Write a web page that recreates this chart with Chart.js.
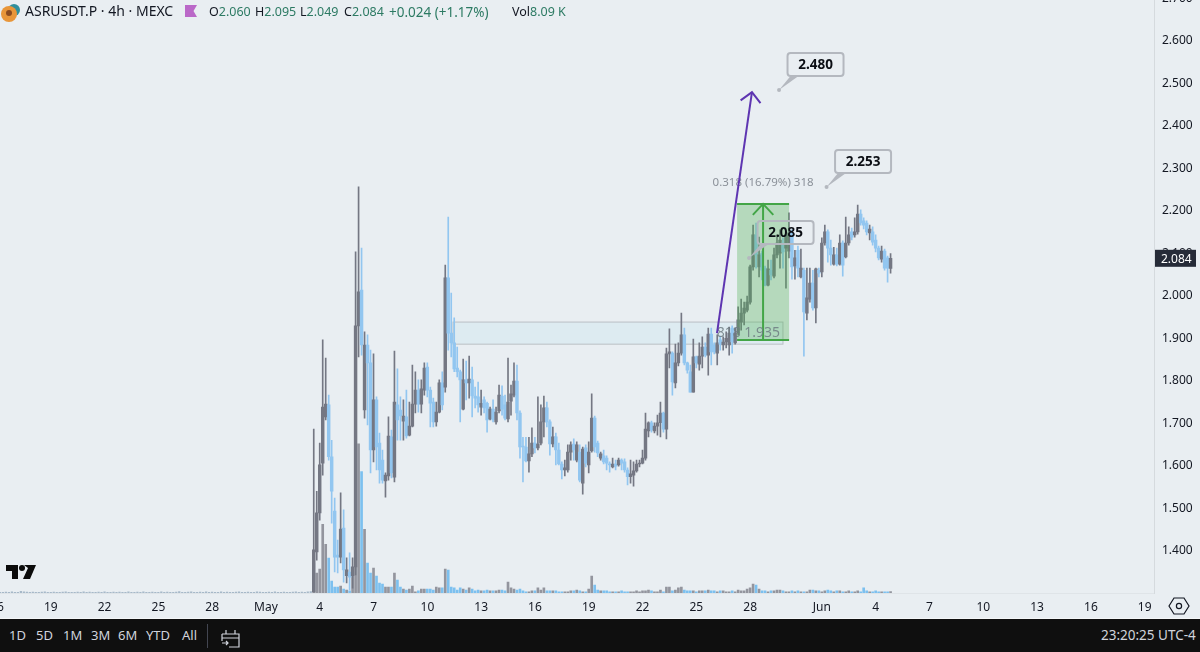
<!DOCTYPE html>
<html>
<head>
<meta charset="utf-8">
<title>ASRUSDT.P</title>
<script src="https://cdn.jsdelivr.net/npm/chart.js@4"></script>
<style>
    html, body { margin: 0; padding: 0; width: 1200px; height: 652px; overflow: hidden; background: #e9eef2; font-family: "Noto Sans", sans-serif; }
    #chart { position: absolute; left: -3px; top: -14px; }
    .t { position: absolute; white-space: nowrap; }
    #head { color: #131722; font-size: 14px; left: 25px; top: 1px; line-height: 20px; }
    .ohlc { color: #131722; font-size: 12.5px; top: 1.5px; line-height: 20px; }
    .ohlc b { font-weight: 400; color: #2c7a63; }
    #bottom { position: absolute; left: 0; top: 618px; width: 1200px; height: 34px; background: #0f0f0f; border-top: 1px solid #f4f6f8; box-sizing: border-box; color: #d1d4dc; font-size: 13px; }
    #bottom span { position: absolute; top: 7px; line-height: 18px; }
    svg { position: absolute; }
</style>
</head>
<body>
<canvas id="chart" width="1203" height="633"></canvas>

<svg style="left:0;top:3px" width="22" height="20"><circle cx="14" cy="7" r="6" fill="#2f8f9d"/><circle cx="9" cy="11" r="8" fill="#e8963a"/><circle cx="9" cy="10" r="3" fill="#8a4b20"/></svg>
<div class="t" id="head">ASRUSDT.P · 4h · MEXC</div>
<svg style="left:185px;top:5px" width="12" height="12"><path d="M0 0H12L8.5 6L12 12H0Z" fill="#ba68c8"/></svg>
<div class="t ohlc" style="left:209px">O<b>2.060</b></div>
<div class="t ohlc" style="left:255px">H<b>2.095</b></div>
<div class="t ohlc" style="left:300px">L<b>2.049</b></div>
<div class="t ohlc" style="left:344px">C<b>2.084</b></div>
<div class="t ohlc" style="left:389px;font-size:13.5px"><b>+0.024 (+1.17%)</b></div>
<div class="t ohlc" style="left:512px">Vol<b>8.09 K</b></div>

<svg style="left:6px;top:565px" width="30" height="14"><path d="M0 0H12V14H6V6H0Z M18 0H30L24 14H17L22 3Z" fill="#0b0b0b"/><circle cx="16" cy="3" r="3" fill="#0b0b0b"/></svg>
<svg style="left:1168px;top:597px" width="22" height="18" fill="none" stroke="#131722" stroke-width="1.2"><path d="M1 9L6 1H16L21 9L16 17H6Z"/><circle cx="11" cy="9" r="2.6"/></svg>

<div id="bottom">
    <span style="left:9px">1D</span><span style="left:36px">5D</span><span style="left:63px">1M</span><span style="left:91px">3M</span><span style="left:118px">6M</span><span style="left:146px">YTD</span><span style="left:182px">All</span>
    <svg style="left:207px;top:5px" width="2" height="24"><rect width="1" height="24" fill="#434651"/></svg>
    <svg style="left:221px;top:10px" width="20" height="19" fill="none" stroke="#d1d4dc" stroke-width="1.2"><path d="M1 5H18V18H8M1 5V12M5 1V5M14 1V5M1 9H18M1 14H7M5 12L7 14L5 16"/></svg>
    <span style="left:1101px;font-size:13.5px">23:20:25 UTC-4</span>
</div>

<script>
const priceTicks = [1.4, 1.5, 1.6, 1.7, 1.8, 1.9, 2.0, 2.1, 2.2, 2.3, 2.4, 2.5, 2.6, 2.7];
const dayTicks = [-15, -12, -9, -6, -3, 0, 3, 6, 9, 12, 15, 18, 21, 24, 27, 31, 34, 37, 40, 43, 46, 49];
const dayLabels = ['16', '19', '22', '25', '28', 'May', '4', '7', '10', '13', '16', '19', '22', '25', '28', 'Jun', '4', '7', '10', '13', '16', '19'];

const lastDay = 34.83; // days after May 1, last 4h candle
const lastPrice = 2.084;

const opens = [
    1.299,1.393,1.485,1.602,1.711,1.739,1.617,1.489,1.386,1.381,
    1.449,1.337,1.346,1.337,1.358,1.925,2.009,1.727,1.880,1.838,
    1.633,1.751,1.649,1.609,1.560,1.572,1.664,1.569,1.739,1.727,
    1.701,1.711,1.668,1.689,1.741,1.774,1.741,1.774,1.828,1.774,
    1.746,1.699,1.722,1.791,1.781,2.038,1.908,1.885,1.826,1.817,
    1.729,1.798,1.791,1.798,1.760,1.758,1.734,1.751,1.743,1.706,
    1.729,1.699,1.725,1.760,1.739,1.706,1.748,1.762,1.795,1.720,
    1.642,1.640,1.607,1.624,1.649,1.638,1.649,1.699,1.732,1.699,
    1.647,1.664,1.633,1.600,1.586,1.586,1.628,1.647,1.609,1.628,
    1.555,1.638,1.598,1.631,1.708,1.649,1.614,1.619,1.614,1.600,
    1.593,1.600,1.598,1.609,1.605,1.586,1.570,1.574,1.584,1.600,
    1.602,1.614,1.678,1.697,1.678,1.689,1.697,1.720,1.682,1.859,
    1.861,1.791,1.838,1.861,1.904,1.838,1.817,1.769,1.852,1.835,
    1.854,1.875,1.856,1.906,1.880,1.861,1.892,1.880,1.887,1.880,
    1.920,1.885,1.908,1.934,1.955,1.962,1.981,2.064,2.139,2.064,
    2.096,2.061,2.021,2.056,2.042,2.092,2.096,2.120,2.108,2.101,
    2.144,2.066,2.103,2.040,2.056,1.955,1.988,2.026,1.967,2.056,
    2.052,2.120,2.146,2.108,2.070,2.092,2.070,2.120,2.087,2.120,
    2.146,2.139,2.146,2.188,2.172,2.167,2.144,2.146,2.127,2.108,
    2.082,2.101,2.085,2.060
];
const closes = [
    1.398,1.485,1.598,1.734,1.741,1.617,1.536,1.381,1.381,1.447,
    1.351,1.351,1.334,1.358,1.925,2.005,1.880,1.880,1.838,1.633,
    1.751,1.640,1.586,1.562,1.574,1.666,1.579,1.746,1.704,1.713,
    1.713,1.666,1.689,1.741,1.774,1.741,1.777,1.826,1.774,1.743,
    1.699,1.722,1.791,1.739,2.038,1.908,1.885,1.824,1.817,1.798,
    1.798,1.791,1.800,1.760,1.755,1.739,1.743,1.732,1.704,1.729,
    1.704,1.722,1.762,1.729,1.708,1.746,1.765,1.795,1.720,1.640,
    1.640,1.607,1.624,1.649,1.638,1.647,1.699,1.732,1.699,1.647,
    1.664,1.633,1.600,1.586,1.591,1.628,1.645,1.633,1.645,1.562,
    1.635,1.602,1.628,1.708,1.640,1.626,1.624,1.605,1.602,1.598,
    1.600,1.595,1.609,1.602,1.586,1.570,1.577,1.584,1.600,1.602,
    1.614,1.682,1.697,1.680,1.689,1.697,1.720,1.682,1.859,1.864,
    1.793,1.838,1.861,1.904,1.838,1.821,1.769,1.852,1.838,1.854,
    1.875,1.856,1.906,1.864,1.864,1.885,1.882,1.887,1.896,1.908,
    1.887,1.908,1.939,1.955,1.967,1.981,2.064,2.139,2.092,2.092,
    2.056,2.021,2.059,2.045,2.092,2.120,2.127,2.099,2.139,2.144,
    2.064,2.085,2.061,2.061,1.958,1.991,2.026,1.967,2.059,2.049,
    2.120,2.146,2.108,2.092,2.092,2.070,2.120,2.068,2.120,2.139,
    2.134,2.146,2.188,2.167,2.162,2.146,2.153,2.122,2.108,2.085,
    2.101,2.061,2.061,2.084
];
const highs = [
    1.682,1.536,1.649,1.892,1.849,1.762,1.656,1.520,1.421,1.532,
    1.492,1.379,1.391,1.379,2.099,2.252,2.108,1.911,1.904,1.868,
    1.859,1.758,1.673,1.633,1.579,1.711,1.680,1.866,1.824,1.758,
    1.751,1.774,1.746,1.833,1.817,1.798,1.798,1.838,1.838,1.781,
    1.755,1.746,1.798,1.817,2.068,2.181,2.002,1.944,1.875,1.821,
    1.847,1.842,1.854,1.828,1.781,1.793,1.774,1.758,1.746,1.734,
    1.751,1.734,1.786,1.784,1.762,1.849,1.786,1.838,1.833,1.725,
    1.663,1.663,1.663,1.685,1.663,1.758,1.739,1.760,1.746,1.704,
    1.687,1.673,1.649,1.605,1.609,1.645,1.652,1.659,1.652,1.645,
    1.640,1.645,1.652,1.765,1.713,1.654,1.628,1.633,1.619,1.605,
    1.614,1.609,1.614,1.612,1.612,1.591,1.609,1.605,1.609,1.609,
    1.633,1.720,1.699,1.701,1.697,1.715,1.746,1.722,1.873,1.918,
    1.864,1.882,1.885,1.955,1.920,1.840,1.833,1.894,1.854,1.885,
    1.899,1.885,1.920,1.920,1.885,1.904,1.901,1.899,1.911,1.922,
    1.925,1.920,1.970,1.988,1.981,1.995,2.068,2.162,2.167,2.134,
    2.101,2.066,2.080,2.080,2.108,2.139,2.151,2.132,2.146,2.191,
    2.151,2.103,2.113,2.106,2.061,2.061,2.061,2.056,2.061,2.061,
    2.132,2.162,2.151,2.127,2.110,2.108,2.139,2.125,2.181,2.158,
    2.155,2.179,2.209,2.198,2.179,2.172,2.162,2.158,2.139,2.113,
    2.113,2.106,2.089,2.095
];
const lows = [
    1.299,1.374,1.468,1.574,1.704,1.609,1.461,1.346,1.344,1.367,
    1.322,1.320,1.304,1.308,1.339,1.852,1.856,1.708,1.692,1.579,
    1.605,1.586,1.555,1.555,1.522,1.562,1.567,1.558,1.656,1.656,
    1.656,1.661,1.666,1.687,1.720,1.722,1.720,1.762,1.758,1.687,
    1.687,1.689,1.720,1.727,1.769,1.868,1.852,1.817,1.805,1.699,
    1.727,1.751,1.755,1.711,1.732,1.722,1.715,1.720,1.675,1.704,
    1.699,1.694,1.720,1.715,1.704,1.699,1.715,1.758,1.704,1.614,
    1.558,1.605,1.581,1.617,1.626,1.633,1.645,1.664,1.687,1.621,
    1.640,1.598,1.598,1.565,1.572,1.581,1.609,1.609,1.605,1.558,
    1.529,1.593,1.579,1.628,1.628,1.617,1.609,1.600,1.586,1.581,
    1.591,1.586,1.595,1.586,1.581,1.551,1.555,1.548,1.581,1.593,
    1.600,1.609,1.664,1.675,1.673,1.668,1.664,1.675,1.659,1.826,
    1.762,1.779,1.831,1.856,1.833,1.814,1.769,1.769,1.826,1.821,
    1.826,1.852,1.809,1.833,1.859,1.833,1.868,1.868,1.873,1.856,
    1.861,1.882,1.904,1.915,1.927,1.958,1.976,2.056,2.061,2.040,
    2.033,2.019,2.019,2.033,2.038,2.085,2.061,2.061,2.014,2.085,
    2.035,2.035,2.040,2.038,1.854,1.939,1.981,1.962,1.932,2.040,
    2.040,2.115,2.075,2.068,2.068,2.066,2.068,2.042,2.085,2.115,
    2.127,2.134,2.141,2.162,2.153,2.139,2.127,2.115,2.099,2.080,
    2.075,2.056,2.028,2.049
];
// thousands
const volumes = [
    159,106,127,366,260,186,64,32,32,37,
    21,16,11,106,636,795,647,339,159,106,
    133,90,53,48,32,32,32,106,69,32,
    21,16,21,37,6,11,21,21,21,21,
    16,32,27,27,127,122,32,27,16,27,
    21,16,27,21,11,16,11,11,16,11,
    11,11,16,16,11,58,27,21,16,21,
    11,6,6,11,11,27,16,27,11,11,
    11,11,6,6,6,6,11,11,16,11,
    6,6,21,90,42,16,11,11,11,6,
    6,6,6,11,6,6,6,6,11,6,
    11,11,16,11,6,6,16,6,32,32,
    11,16,27,32,16,11,11,11,6,11,
    11,11,16,11,11,6,11,11,6,6,
    11,6,16,11,11,21,27,48,42,21,
    11,11,6,11,11,16,16,11,6,6,
    11,6,11,6,6,6,16,16,11,11,
    6,11,16,11,6,11,11,6,6,11,
    6,6,11,6,27,11,6,6,11,6,
    6,6,6,8.09
];
// tiny volume bars left of the first visible candle, oldest first
const earlyVolumes = [
    4,3,5,4,6,3,4,9,6,5,4,5,3,4,5,6,4,3,5,4,
    3,5,6,4,3,4,5,3,6,4,5,4,3,5,4,6,3,4,5,3,
    5,4,3,6,4,3,5,4,6,3,4,5,3,4,6,4,5,3,4,5,
    7,4,3,5,6,4,3,5,4,6,3,5,4,3,6,4,5,4,3,5,
    6,3,4,5,4,3,6,5,4,3,5,4,6,3,4,5,4,3,5,6,
    4,5,3,6,8
];

// drawings: days after May 1 and prices
const zone = { from: 10.43, to: 28.83, top: 1.934, bottom: 1.882, label: '818 1.935', labelDay: 26.9 };
const measure = { from: 26.27, to: 29.17, mid: 27.72, top: 2.212, bottom: 1.892, label: '0.318 (16.79%) 318', labelPrice: 2.263 };
const targetArrow = { fromDay: 25.15, fromPrice: 1.908, toDay: 27.10, toPrice: 2.475 };
const callouts = [
    { day: 28.61, price: 2.480, text: '2.480' },
    { day: 31.26, price: 2.252, text: '2.253' },
    { day: 26.94, price: 2.085, text: '2.085' }
];

const upColor = '#747783';
const downColor = '#92c6f0';
const upVolColor = '#93959e';
const downVolColor = '#7cc0ef';
const earlyVolColor = '#a6b8c8';
const uiFont = '"Noto Sans", sans-serif';

const candleDay = i => lastDay - (opens.length - 1 - i) / 6;
const isUp = i => closes[i] >= opens[i];

const volumeBars = volumes.map((v, i) => ({ x: candleDay(i), y: v }));
const earlyBars = earlyVolumes.map((v, i) => ({ x: candleDay(i - earlyVolumes.length), y: v }));

function arrowHead(ctx, tipX, tipY, fromX, fromY, size, spread) {
    const a = Math.atan2(fromY - tipY, fromX - tipX);
    ctx.beginPath();
    ctx.moveTo(tipX + size * Math.cos(a - spread), tipY + size * Math.sin(a - spread));
    ctx.lineTo(tipX, tipY);
    ctx.lineTo(tipX + size * Math.cos(a + spread), tipY + size * Math.sin(a + spread));
    ctx.stroke();
}

const drawings = {
    id: 'drawings',
    beforeDatasetsDraw(chart) {
        const { ctx, scales: { x, y } } = chart;
        const left = x.getPixelForValue(zone.from), right = x.getPixelForValue(zone.to);
        const top = y.getPixelForValue(zone.top), bottom = y.getPixelForValue(zone.bottom);
        ctx.save();
        ctx.fillStyle = 'rgba(195, 228, 238, 0.3)';
        ctx.fillRect(left, top, right - left, bottom - top);
        ctx.strokeStyle = '#b9bfc4';
        ctx.lineWidth = 1;
        ctx.strokeRect(left, top, right - left, bottom - top);
        ctx.restore();
    },
    afterDatasetsDraw(chart) {
        const { ctx, scales: { x, y } } = chart;
        ctx.save();

        // green long/short measure box
        const mLeft = x.getPixelForValue(measure.from), mRight = x.getPixelForValue(measure.to);
        const mTop = y.getPixelForValue(measure.top), mBottom = y.getPixelForValue(measure.bottom);
        const mMid = x.getPixelForValue(measure.mid);
        ctx.fillStyle = 'rgba(76, 175, 80, 0.33)';
        ctx.fillRect(mLeft, mTop, mRight - mLeft, mBottom - mTop);
        ctx.strokeStyle = '#43a547';
        ctx.lineWidth = 2;
        ctx.beginPath();
        ctx.moveTo(mLeft, mTop); ctx.lineTo(mRight, mTop);
        ctx.moveTo(mLeft, mBottom); ctx.lineTo(mRight, mBottom);
        ctx.moveTo(mMid, mBottom); ctx.lineTo(mMid, mTop);
        ctx.stroke();
        arrowHead(ctx, mMid, mTop, mMid, mBottom, 15, 0.75);

        ctx.font = '11.5px ' + uiFont;
        ctx.textAlign = 'center';
        ctx.textBaseline = 'middle';
        ctx.fillStyle = '#8b9199';
        ctx.fillText(measure.label, mMid, y.getPixelForValue(measure.labelPrice));

        ctx.font = '14px ' + uiFont;
        ctx.fillStyle = 'rgba(110, 125, 130, 0.85)';
        ctx.fillText(zone.label, x.getPixelForValue(zone.labelDay), y.getPixelForValue((zone.top + zone.bottom) / 2));

        // purple target arrow
        const ax0 = x.getPixelForValue(targetArrow.fromDay), ay0 = y.getPixelForValue(targetArrow.fromPrice);
        const ax1 = x.getPixelForValue(targetArrow.toDay), ay1 = y.getPixelForValue(targetArrow.toPrice);
        ctx.strokeStyle = '#5e35b1';
        ctx.lineWidth = 2;
        ctx.beginPath();
        ctx.moveTo(ax0, ay0);
        ctx.lineTo(ax1, ay1);
        ctx.stroke();
        arrowHead(ctx, ax1, ay1, ax0, ay0, 14, 0.8);

        // price callouts
        callouts.forEach(c => {
            const px = x.getPixelForValue(c.day), py = y.getPixelForValue(c.price);
            const bx = px + 8.5, by = py - 37;
            ctx.fillStyle = '#b4b8bf';
            ctx.beginPath();
            ctx.arc(px, py, 2, 0, Math.PI * 2);
            ctx.fill();
            ctx.beginPath();
            ctx.moveTo(px, py);
            ctx.lineTo(bx + 3, by + 23);
            ctx.lineTo(bx + 11, by + 23);
            ctx.closePath();
            ctx.fill();
            ctx.strokeStyle = '#b4b8bf';
            ctx.lineWidth = 2;
            ctx.beginPath();
            ctx.roundRect(bx, by, 56, 23, 3);
            ctx.stroke();
            ctx.font = 'bold 13.5px ' + uiFont;
            ctx.fillStyle = '#0b0e14';
            ctx.fillText(c.text, bx + 28, by + 12);
        });
        ctx.restore();
    },
    afterDraw(chart) {
        // last price tag on the axis
        const { ctx, chartArea, scales: { y } } = chart;
        const py = y.getPixelForValue(lastPrice);
        ctx.save();
        ctx.fillStyle = '#262b38';
        ctx.fillRect(chartArea.right + 1, py - 8.5, 41, 17);
        ctx.font = '12px ' + uiFont;
        ctx.fillStyle = '#ffffff';
        ctx.textAlign = 'left';
        ctx.textBaseline = 'middle';
        ctx.fillText(lastPrice.toFixed(3), chartArea.right + 7, py + 1);
        ctx.restore();
    }
};

new Chart(document.querySelector('#chart').getContext('2d'), {
    type: 'bar',
    data: {
        datasets: [
            {
                label: 'Early volume',
                data: earlyBars,
                yAxisID: 'volume',
                backgroundColor: earlyVolColor,
                barThickness: 1.6,
                grouped: false,
                order: 4,
            },
            {
                label: 'Volume',
                data: volumeBars,
                yAxisID: 'volume',
                backgroundColor: volumes.map((v, i) => isUp(i) ? upVolColor : downVolColor),
                barThickness: 2,
                grouped: false,
                order: 3,
            },
            {
                label: 'Wicks',
                data: highs.map((h, i) => ({ x: candleDay(i), y: [lows[i], h] })),
                yAxisID: 'y',
                backgroundColor: highs.map((h, i) => isUp(i) ? upColor : downColor),
                barThickness: 1,
                grouped: false,
                order: 2,
            },
            {
                label: 'Bodies',
                data: opens.map((o, i) => ({ x: candleDay(i), y: [o, closes[i]] })),
                yAxisID: 'y',
                backgroundColor: opens.map((o, i) => isUp(i) ? upColor : downColor),
                barThickness: 2.8,
                minBarLength: 1,
                grouped: false,
                order: 1,
            },
        ],
    },
    options: {
        responsive: false,
        animation: false,
        events: [],
        layout: { padding: { top: 10.5, left: 0, right: 0, bottom: 0 } },
        plugins: { legend: { display: false }, tooltip: { enabled: false } },
        scales: {
            x: {
                type: 'linear',
                offset: false,
                min: -15,
                max: 49.52,
                grid: { display: false, drawTicks: false },
                border: { color: '#dfe4e8' },
                afterBuildTicks: axis => { axis.ticks = dayTicks.map(value => ({ value })); },
                afterFit: axis => { axis.height = 26; axis.paddingLeft = 0; axis.paddingRight = 0; },
                ticks: {
                    autoSkip: false,
                    maxRotation: 0,
                    padding: 7,
                    color: '#131722',
                    font: { family: uiFont, size: 12 },
                    callback: value => dayLabels[dayTicks.indexOf(value)],
                },
            },
            y: {
                position: 'right',
                min: 1.2965,
                max: 2.7,
                grid: { display: false, drawTicks: false },
                border: { color: '#d5dade' },
                afterBuildTicks: axis => { axis.ticks = priceTicks.map(value => ({ value })); },
                afterFit: axis => { axis.width = 46; axis.paddingTop = 0; axis.paddingBottom = 0; },
                ticks: {
                    padding: 8,
                    color: '#131722',
                    // blank first line with a short line height nudges the text 2px down
                    font: { family: uiFont, size: 12, lineHeight: 0.33 },
                    callback: value => ['', value.toFixed(3)],
                },
            },
            volume: {
                display: false,
                min: 0,
                max: 3180,
            },
        },
    },
    plugins: [drawings],
});
</script>
</body>
</html>
